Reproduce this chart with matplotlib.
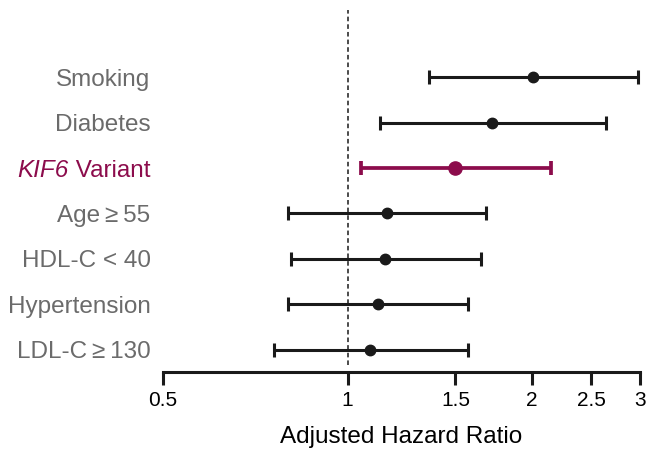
import matplotlib
matplotlib.use("Agg")
import matplotlib.pyplot as plt
from matplotlib.ticker import FixedLocator, NullLocator
from matplotlib.transforms import offset_copy

plt.rcParams['font.family'] = ['Liberation Sans', 'DejaVu Sans']

# Data (top to bottom)
factors = ["Smoking", "Diabetes", "KIF6 Variant", "Age\u2009\u2265\u200955", "HDL-C < 40", "Hypertension", "LDL-C\u2009\u2265\u2009130"]
hr = [2.01, 1.72, 1.50, 1.16, 1.15, 1.12, 1.09]
ci_low = [1.36, 1.13, 1.05, 0.80, 0.81, 0.80, 0.76]
ci_high = [2.98, 2.64, 2.15, 1.68, 1.65, 1.57, 1.57]
highlight = "KIF6 Variant"
xticks = [0.5, 1, 1.5, 2, 2.5, 3]
xticklabels = ["0.5", "1", "1.5", "2", "2.5", "3"]

dark = "#1a1a1a"
mag = "#8c0c4c"
gray = "#6b6b6b"
lab_fs = 17.5

fig = plt.figure(figsize=(6.48, 4.5), dpi=100)
ax = fig.add_axes([163/648, 78/450, (640-163)/648, 362/450])
ax.set_xscale('log')

n = len(factors)
ys = [n - 1 - i for i in range(n)]

for f, y, m, lo, hi in zip(factors, ys, hr, ci_low, ci_high):
    if f == highlight:
        c, lw, ms = mag, 2.7, 9.5
    else:
        c, lw, ms = dark, 2.2, 7.5
    ax.errorbar([m], [y], xerr=[[m - lo], [hi - m]], fmt='o', color=c,
                ecolor=c, elinewidth=lw, capsize=5, capthick=lw, markersize=ms,
                clip_on=False, zorder=3)

ax.set_xlim(0.5, 3)
ax.set_ylim(-0.484, 7.473)
ax.vlines(1, -0.33, 7.473, colors=dark, linestyles=(0, (3, 2)), linewidth=1.1, zorder=1)

for s in ['top', 'right', 'left']:
    ax.spines[s].set_visible(False)
ax.spines['bottom'].set_linewidth(2.2)
ax.spines['bottom'].set_color(dark)

ax.xaxis.set_major_locator(FixedLocator(xticks))
ax.xaxis.set_minor_locator(NullLocator())
ax.set_xticklabels(xticklabels, fontsize=15)
ax.tick_params(axis='x', length=9, width=2.2, color=dark, pad=5)

ax.set_yticks(ys)
ax.set_yticklabels([("" if f == highlight else f) for f in factors], fontsize=lab_fs, color=gray)
ax.tick_params(axis='y', length=0, pad=9)

# highlighted label: italic gene name + regular word
ytr = ax.get_yaxis_transform()
hy = ys[factors.index(highlight)]
base_tr = offset_copy(ytr, fig=fig, x=-9, y=0, units='points')
t2 = ax.text(0, hy, " Variant", transform=base_tr, ha='right', va='center_baseline',
             fontsize=lab_fs, color=mag)
fig.canvas.draw()
w = t2.get_window_extent().width
t1_tr = offset_copy(ytr, fig=fig, x=-9 - w * 72 / fig.dpi, y=0, units='points')
ax.text(0, hy, "KIF6", transform=t1_tr, ha='right', va='center_baseline',
        fontsize=lab_fs, color=mag, style='italic')

ax.set_xlabel("Adjusted Hazard Ratio", fontsize=lab_fs, labelpad=11)

fig.savefig("out.png", dpi=100)
